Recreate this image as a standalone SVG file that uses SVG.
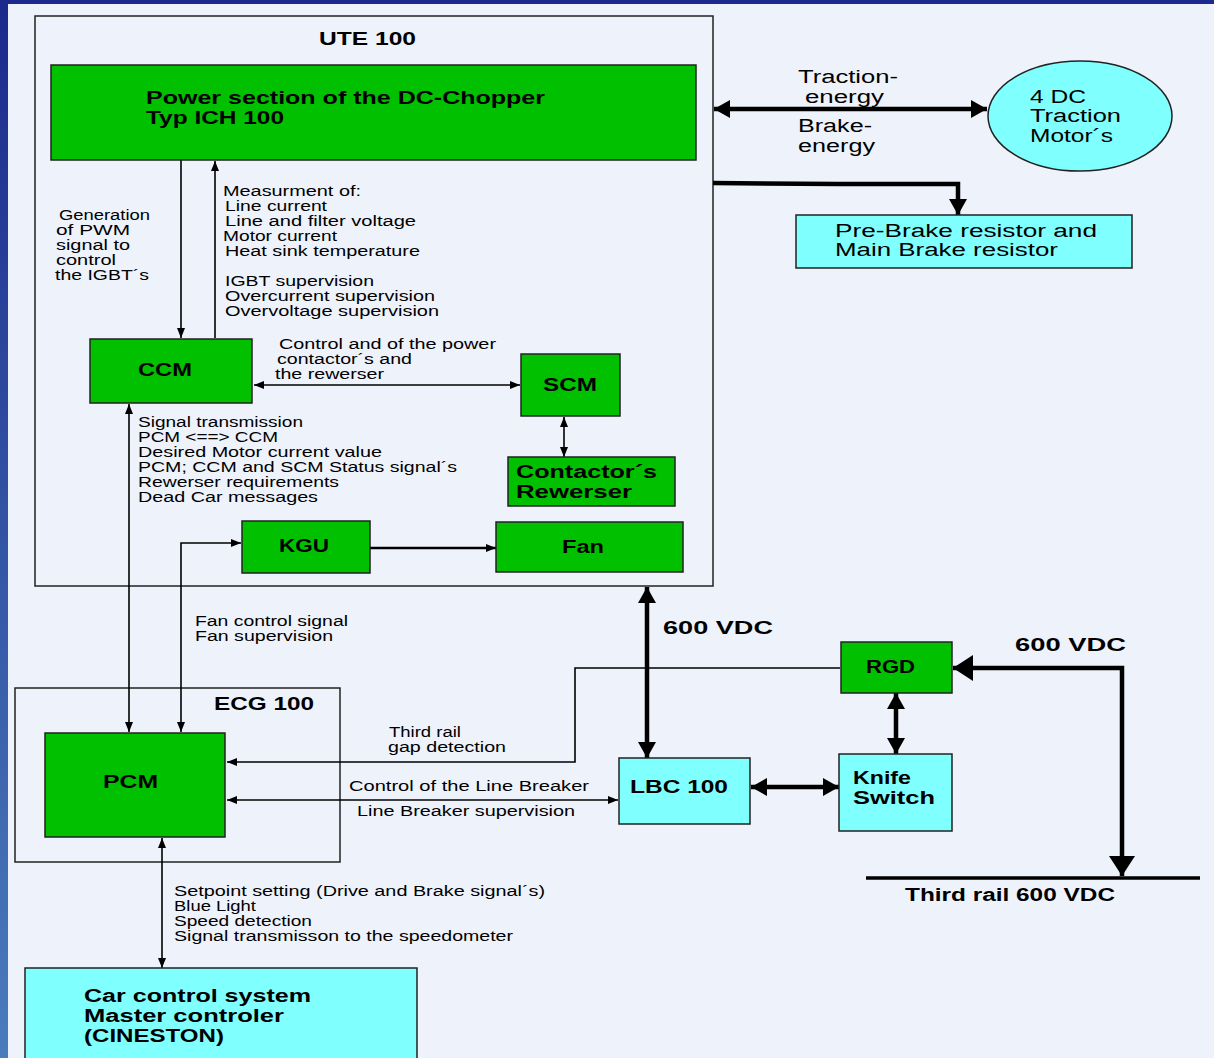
<svg xmlns="http://www.w3.org/2000/svg" width="1214" height="1058" viewBox="0 0 1214 1058">
<defs>
<linearGradient id="edge" x1="0" y1="0" x2="0" y2="1">
<stop offset="0" stop-color="#1b2a8c"/>
<stop offset="1" stop-color="#4a7cbc"/>
</linearGradient>
<marker id="a" markerUnits="userSpaceOnUse" viewBox="0 0 10 8" refX="10" refY="4" markerWidth="10" markerHeight="8" orient="auto-start-reverse"><path d="M0,0 L10,4 L0,8 z" fill="#000"/></marker>
<marker id="b" markerUnits="userSpaceOnUse" viewBox="0 0 16 18" refX="16" refY="9" markerWidth="16" markerHeight="18" orient="auto-start-reverse"><path d="M0,0 L16,9 L0,18 z" fill="#000"/></marker>
<marker id="c" markerUnits="userSpaceOnUse" viewBox="0 0 20 26" refX="20" refY="13" markerWidth="20" markerHeight="26" orient="auto-start-reverse"><path d="M0,0 L20,13 L0,26 z" fill="#000"/></marker>
</defs>
<style>
.bg{fill:#eef2fb}
.frame{fill:none;stroke:#222;stroke-width:1.5}
.g{fill:#00c000;stroke:#222;stroke-width:1.5}
.cy{fill:#80ffff;stroke:#222;stroke-width:1.5}
text{font-family:"Liberation Sans",Arial,sans-serif;fill:#000}
.s{font-size:14px}
.m{font-size:18px}
.bd{font-size:18px;font-weight:bold}
.t{fill:none;stroke:#000;stroke-width:1.6}
.k{fill:none;stroke:#000;stroke-width:2.5}
.th{fill:none;stroke:#000;stroke-width:4.5}
</style>
<rect class="bg" x="0" y="0" width="1214" height="1058"/>
<rect x="0" y="0" width="1214" height="4" fill="#1b2a8c"/>
<rect x="0" y="0" width="8" height="1058" fill="url(#edge)"/>

<g id="ute100">
<rect class="frame" x="35" y="16" width="678" height="570"/>
<text class="bd" x="319" y="45" textLength="97" lengthAdjust="spacingAndGlyphs">UTE 100</text>
</g>
<g id="ecg100">
<rect class="frame" x="15" y="688" width="325" height="174"/>
<text class="bd" x="214" y="710" textLength="100" lengthAdjust="spacingAndGlyphs">ECG 100</text>
</g>

<g id="connectors">
<line class="t" x1="181" y1="160" x2="181" y2="338" marker-end="url(#a)"/>
<line class="t" x1="215" y1="338" x2="215" y2="161" marker-end="url(#a)"/>
<line class="t" x1="254" y1="385" x2="520" y2="385" marker-start="url(#a)" marker-end="url(#a)"/>
<line class="t" x1="564" y1="417" x2="564" y2="457" marker-start="url(#a)" marker-end="url(#a)"/>
<line class="t" x1="129" y1="404" x2="129" y2="732" marker-start="url(#a)" marker-end="url(#a)"/>
<polyline class="t" points="181,732 181,543 241,543" marker-start="url(#a)" marker-end="url(#a)"/>
<line class="k" x1="370" y1="548" x2="496" y2="548" marker-end="url(#a)"/>
<polyline class="t" points="840,668 575,668 575,762 227,762" marker-end="url(#a)"/>
<line class="t" x1="227" y1="800" x2="618" y2="800" marker-start="url(#a)" marker-end="url(#a)"/>
<line class="t" x1="162" y1="838" x2="162" y2="968" marker-start="url(#a)" marker-end="url(#a)"/>
<line class="th" x1="647" y1="587" x2="647" y2="758" marker-start="url(#b)" marker-end="url(#b)"/>
<line class="th" x1="751" y1="787" x2="839" y2="787" marker-start="url(#b)" marker-end="url(#b)"/>
<line class="th" x1="896" y1="693" x2="896" y2="754" marker-start="url(#b)" marker-end="url(#b)"/>
<polyline class="th" points="953,668 1122,668 1122,876" marker-start="url(#c)" marker-end="url(#c)"/>
<line x1="866" y1="878" x2="1200" y2="878" stroke="#000" stroke-width="3.5"/>
<line class="th" x1="714" y1="109" x2="987" y2="109" marker-start="url(#b)" marker-end="url(#b)"/>
<polyline class="th" points="713,183 838,184 958,184 958,215" marker-end="url(#b)"/>
</g>

<g id="power-section">
<rect class="g" x="51" y="65" width="645" height="95"/>
<text class="bd" x="146" y="104" textLength="399" lengthAdjust="spacingAndGlyphs">Power section of the DC-Chopper</text>
<text class="bd" x="146" y="124" textLength="138" lengthAdjust="spacingAndGlyphs">Typ ICH 100</text>
</g>
<g id="ccm">
<rect class="g" x="90" y="339" width="162" height="64"/>
<text class="bd" x="138" y="376" textLength="54" lengthAdjust="spacingAndGlyphs">CCM</text>
</g>
<g id="scm">
<rect class="g" x="521" y="354" width="99" height="62"/>
<text class="bd" x="543" y="391" textLength="54" lengthAdjust="spacingAndGlyphs">SCM</text>
</g>
<g id="contactors">
<rect class="g" x="508" y="457" width="167" height="49"/>
<text class="bd" x="516" y="478" textLength="141" lengthAdjust="spacingAndGlyphs">Contactor´s</text>
<text class="bd" x="516" y="498" textLength="116" lengthAdjust="spacingAndGlyphs">Rewerser</text>
</g>
<g id="kgu">
<rect class="g" x="242" y="521" width="128" height="52"/>
<text class="bd" x="279" y="552" textLength="50" lengthAdjust="spacingAndGlyphs">KGU</text>
</g>
<g id="fan">
<rect class="g" x="496" y="522" width="187" height="50"/>
<text class="bd" x="562" y="553" textLength="42" lengthAdjust="spacingAndGlyphs">Fan</text>
</g>
<g id="pcm">
<rect class="g" x="45" y="733" width="180" height="104"/>
<text class="bd" x="103" y="788" textLength="55" lengthAdjust="spacingAndGlyphs">PCM</text>
</g>
<g id="lbc100">
<rect class="cy" x="619" y="758" width="131" height="66"/>
<text class="bd" x="630" y="793" textLength="98" lengthAdjust="spacingAndGlyphs">LBC 100</text>
</g>
<g id="knife-switch">
<rect class="cy" x="839" y="754" width="113" height="77"/>
<text class="bd" x="853" y="784" textLength="58" lengthAdjust="spacingAndGlyphs">Knife</text>
<text class="bd" x="853" y="804" textLength="82" lengthAdjust="spacingAndGlyphs">Switch</text>
</g>
<g id="rgd">
<rect class="g" x="841" y="642" width="111" height="51"/>
<text class="bd" x="866" y="673" textLength="49" lengthAdjust="spacingAndGlyphs">RGD</text>
</g>
<g id="traction-motors">
<ellipse cx="1080" cy="116" rx="92" ry="55" fill="#80ffff" stroke="#222" stroke-width="1.5"/>
<text class="m" x="1030" y="103" textLength="56" lengthAdjust="spacingAndGlyphs">4 DC</text>
<text class="m" x="1030" y="122" textLength="91" lengthAdjust="spacingAndGlyphs">Traction</text>
<text class="m" x="1030" y="142" textLength="83" lengthAdjust="spacingAndGlyphs">Motor´s</text>
</g>
<g id="brake-resistor">
<rect class="cy" x="796" y="215" width="336" height="53"/>
<text class="m" x="835" y="237" textLength="262" lengthAdjust="spacingAndGlyphs">Pre-Brake resistor and</text>
<text class="m" x="835" y="256" textLength="223" lengthAdjust="spacingAndGlyphs">Main Brake resistor</text>
</g>
<g id="car-control">
<rect class="cy" x="25" y="968" width="392" height="100"/>
<text class="bd" x="84" y="1002" textLength="227" lengthAdjust="spacingAndGlyphs">Car control system</text>
<text class="bd" x="84" y="1022" textLength="200" lengthAdjust="spacingAndGlyphs">Master controler</text>
<text class="bd" x="84" y="1042" textLength="140" lengthAdjust="spacingAndGlyphs">(CINESTON)</text>
</g>
<g id="third-rail">
<text class="bd" x="905" y="901" textLength="210" lengthAdjust="spacingAndGlyphs">Third rail 600 VDC</text>
</g>

<g id="labels">
<text class="s" x="59" y="220" textLength="91" lengthAdjust="spacingAndGlyphs">Generation</text>
<text class="s" x="56" y="235" textLength="74" lengthAdjust="spacingAndGlyphs">of PWM</text>
<text class="s" x="56" y="250" textLength="74" lengthAdjust="spacingAndGlyphs">signal to</text>
<text class="s" x="56" y="265" textLength="60" lengthAdjust="spacingAndGlyphs">control</text>
<text class="s" x="55" y="280" textLength="94" lengthAdjust="spacingAndGlyphs">the IGBT´s</text>
<text class="s" x="223" y="196" textLength="138" lengthAdjust="spacingAndGlyphs">Measurment of:</text>
<text class="s" x="225" y="211" textLength="102" lengthAdjust="spacingAndGlyphs">Line current</text>
<text class="s" x="225" y="226" textLength="191" lengthAdjust="spacingAndGlyphs">Line and filter voltage</text>
<text class="s" x="223" y="241" textLength="114" lengthAdjust="spacingAndGlyphs">Motor current</text>
<text class="s" x="225" y="256" textLength="195" lengthAdjust="spacingAndGlyphs">Heat sink temperature</text>
<text class="s" x="225" y="286" textLength="149" lengthAdjust="spacingAndGlyphs">IGBT supervision</text>
<text class="s" x="225" y="301" textLength="210" lengthAdjust="spacingAndGlyphs">Overcurrent supervision</text>
<text class="s" x="225" y="316" textLength="214" lengthAdjust="spacingAndGlyphs">Overvoltage supervision</text>
<text class="s" x="279" y="349" textLength="217" lengthAdjust="spacingAndGlyphs">Control and of the power</text>
<text class="s" x="277" y="364" textLength="135" lengthAdjust="spacingAndGlyphs">contactor´s and</text>
<text class="s" x="275" y="379" textLength="109" lengthAdjust="spacingAndGlyphs">the rewerser</text>
<text class="s" x="138" y="427" textLength="165" lengthAdjust="spacingAndGlyphs">Signal transmission</text>
<text class="s" x="138" y="442" textLength="140" lengthAdjust="spacingAndGlyphs">PCM &lt;==&gt; CCM</text>
<text class="s" x="138" y="457" textLength="244" lengthAdjust="spacingAndGlyphs">Desired Motor current value</text>
<text class="s" x="138" y="472" textLength="319" lengthAdjust="spacingAndGlyphs">PCM; CCM and SCM Status signal´s</text>
<text class="s" x="138" y="487" textLength="201" lengthAdjust="spacingAndGlyphs">Rewerser requirements</text>
<text class="s" x="138" y="502" textLength="180" lengthAdjust="spacingAndGlyphs">Dead Car messages</text>
<text class="s" x="195" y="626" textLength="153" lengthAdjust="spacingAndGlyphs">Fan control signal</text>
<text class="s" x="195" y="641" textLength="138" lengthAdjust="spacingAndGlyphs">Fan supervision</text>
<text class="s" x="389" y="737" textLength="72" lengthAdjust="spacingAndGlyphs">Third rail</text>
<text class="s" x="388" y="752" textLength="118" lengthAdjust="spacingAndGlyphs">gap detection</text>
<text class="s" x="349" y="791" textLength="240" lengthAdjust="spacingAndGlyphs">Control of the Line Breaker</text>
<text class="s" x="357" y="816" textLength="218" lengthAdjust="spacingAndGlyphs">Line Breaker supervision</text>
<text class="s" x="174" y="896" textLength="371" lengthAdjust="spacingAndGlyphs">Setpoint setting (Drive and Brake signal´s)</text>
<text class="s" x="174" y="911" textLength="82" lengthAdjust="spacingAndGlyphs">Blue Light</text>
<text class="s" x="174" y="926" textLength="138" lengthAdjust="spacingAndGlyphs">Speed detection</text>
<text class="s" x="174" y="941" textLength="339" lengthAdjust="spacingAndGlyphs">Signal transmisson to the speedometer</text>
<text class="bd" x="663" y="634" textLength="110" lengthAdjust="spacingAndGlyphs">600 VDC</text>
<text class="bd" x="1015" y="651" textLength="111" lengthAdjust="spacingAndGlyphs">600 VDC</text>
<text class="m" x="798" y="83" textLength="100" lengthAdjust="spacingAndGlyphs">Traction-</text>
<text class="m" x="805" y="103" textLength="79" lengthAdjust="spacingAndGlyphs">energy</text>
<text class="m" x="798" y="132" textLength="74" lengthAdjust="spacingAndGlyphs">Brake-</text>
<text class="m" x="798" y="152" textLength="77" lengthAdjust="spacingAndGlyphs">energy</text>
</g>
</svg>
